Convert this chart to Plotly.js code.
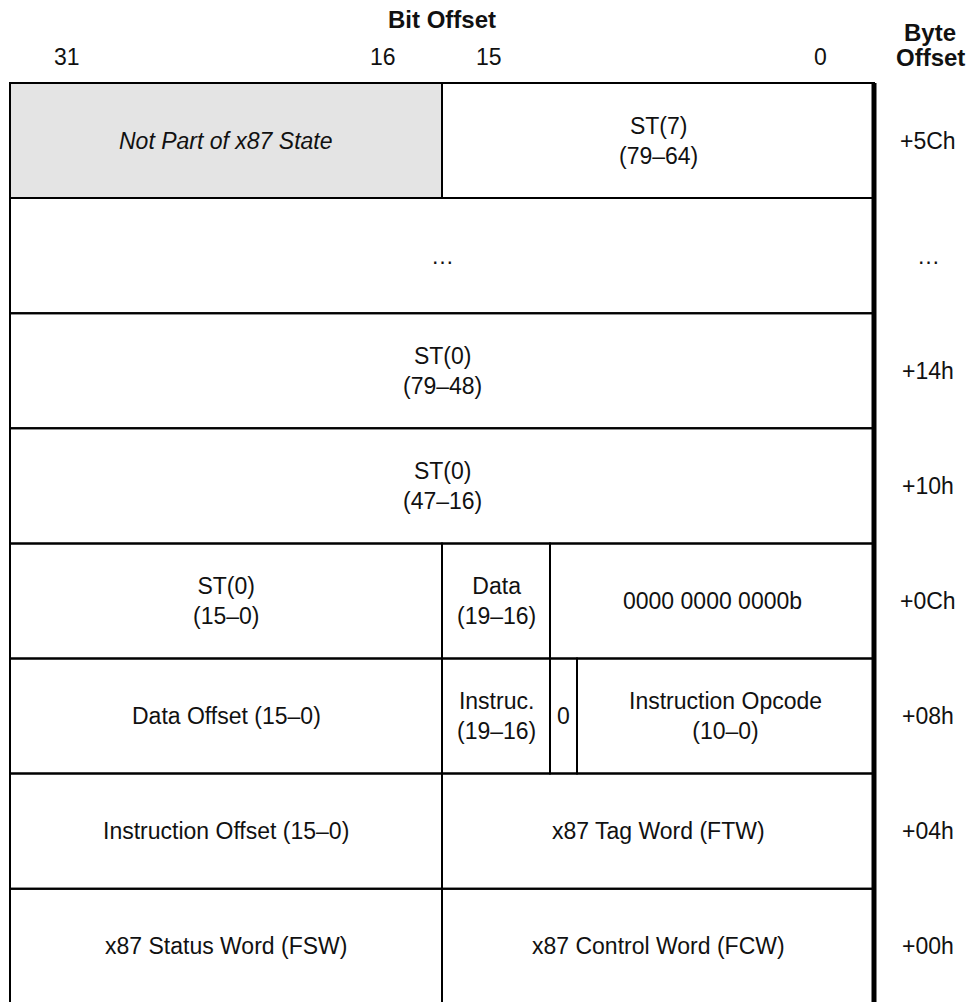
<!DOCTYPE html>
<html>
<head>
<meta charset="utf-8">
<script src="https://cdn.plot.ly/plotly-3.0.1.min.js"></script>
<style>html,body{margin:0;padding:0;background:#fff;}#chart{width:970px;height:1002px;}</style>
</head>
<body>
<div id="chart"></div>
<script>
// ---- data ----
const byteOffsets = ['+5Ch', '…', '+14h', '+10h', '+0Ch', '+08h', '+04h', '+00h'];
const cellRow  = [0, 0, 1, 2, 3, 4, 4, 4, 5, 5, 5, 5, 6, 6, 7, 7];
const cellHi   = [31, 15, 31, 31, 31, 31, 15, 11, 31, 15, 11, 10, 31, 15, 31, 15];
const cellLo   = [16, 0, 0, 0, 0, 16, 12, 0, 16, 12, 11, 0, 16, 0, 16, 0];
const cellText = [
  '<i>Not Part of x87 State</i>', 'ST(7)<br>(79–64)',
  '…',
  'ST(0)<br>(79–48)',
  'ST(0)<br>(47–16)',
  'ST(0)<br>(15–0)', 'Data<br>(19–16)', '0000 0000 0000b',
  'Data Offset (15–0)', 'Instruc.<br>(19–16)', '0', 'Instruction Opcode<br>(10–0)',
  'Instruction Offset (15–0)', 'x87 Tag Word (FTW)',
  'x87 Status Word (FSW)', 'x87 Control Word (FCW)'
];
const cellShaded = [true, false, false, false, false, false, false, false, false, false, false, false, false, false, false, false];
const bitLabels = ['31', '16', '15', '0'];
const bitLabelBits = [32, 16, 16, 0];   // boundary each label sits next to

// ---- style ----
const W = 970, H = 1002;
const FONT = 'Liberation Sans, Arial, Helvetica, sans-serif';
const FS = 23, FSB = 24;
const gridLeft = 10, bitPx = 27, gridTop = 83, rowPx = 115.1;
const xRange = [32 + gridLeft / bitPx, 32 - (W - gridLeft) / bitPx];
const yRange = [(H - gridTop) / rowPx, -gridTop / rowPx];
const bitLabelShift = [57, -59, 47, -54];

const shapes = [];
const annotations = [];
for (let i = 0; i < cellRow.length; i++) {
  shapes.push({
    type: 'rect', xref: 'x', yref: 'y',
    x0: cellHi[i] + 1, x1: cellLo[i], y0: cellRow[i], y1: cellRow[i] + 1,
    line: {color: '#000', width: 2},
    fillcolor: cellShaded[i] ? '#e4e4e4' : 'rgba(0,0,0,0)',
    layer: 'below'
  });
  annotations.push({
    xref: 'x', yref: 'y', x: (cellHi[i] + 1 + cellLo[i]) / 2, y: cellRow[i] + 0.5,
    text: cellText[i], showarrow: false, xanchor: 'center', yanchor: 'middle',
    font: {family: FONT, size: FS, color: '#111'}
  });
}
// thick right border
shapes.push({type: 'line', xref: 'x', yref: 'y', x0: 0, x1: 0, y0: 0, y1: byteOffsets.length,
  line: {color: '#000', width: 5}});

byteOffsets.forEach((t, r) => {
  annotations.push({xref: 'paper', yref: 'y', x: 928 / W, y: r + 0.5, text: t, showarrow: false,
    xanchor: 'center', yanchor: 'middle', font: {family: FONT, size: FS, color: '#111'}});
});
bitLabels.forEach((t, i) => {
  annotations.push({xref: 'x', yref: 'paper', x: bitLabelBits[i], y: 1 - 57 / H, text: t, showarrow: false,
    xanchor: 'center', yanchor: 'middle', xshift: bitLabelShift[i],
    font: {family: FONT, size: FS, color: '#111'}});
});
annotations.push({xref: 'x', yref: 'paper', x: 16, y: 1 - 20 / H, text: '<b>Bit Offset</b>', showarrow: false,
  xanchor: 'center', yanchor: 'middle', font: {family: FONT, size: FSB, color: '#111'}});
annotations.push({xref: 'paper', yref: 'paper', x: 930 / W, y: 1 - 33 / H, text: '<b>Byte</b>', showarrow: false,
  xanchor: 'center', yanchor: 'middle', font: {family: FONT, size: FSB, color: '#111'}});
annotations.push({xref: 'paper', yref: 'paper', x: 930 / W, y: 1 - 58 / H, text: '<b>Offset</b>', showarrow: false,
  xanchor: 'center', yanchor: 'middle', font: {family: FONT, size: FSB, color: '#111'}});

const layout = {
  width: W, height: H,
  margin: {l: 0, r: 0, t: 0, b: 0, pad: 0},
  paper_bgcolor: '#fff', plot_bgcolor: '#fff',
  xaxis: {range: xRange, visible: false, fixedrange: true},
  yaxis: {range: yRange, visible: false, fixedrange: true},
  showlegend: false,
  shapes: shapes,
  annotations: annotations
};
Plotly.newPlot('chart', [{x: [], y: [], type: 'scatter'}], layout, {displayModeBar: false, staticPlot: true});
</script>
</body>
</html>
